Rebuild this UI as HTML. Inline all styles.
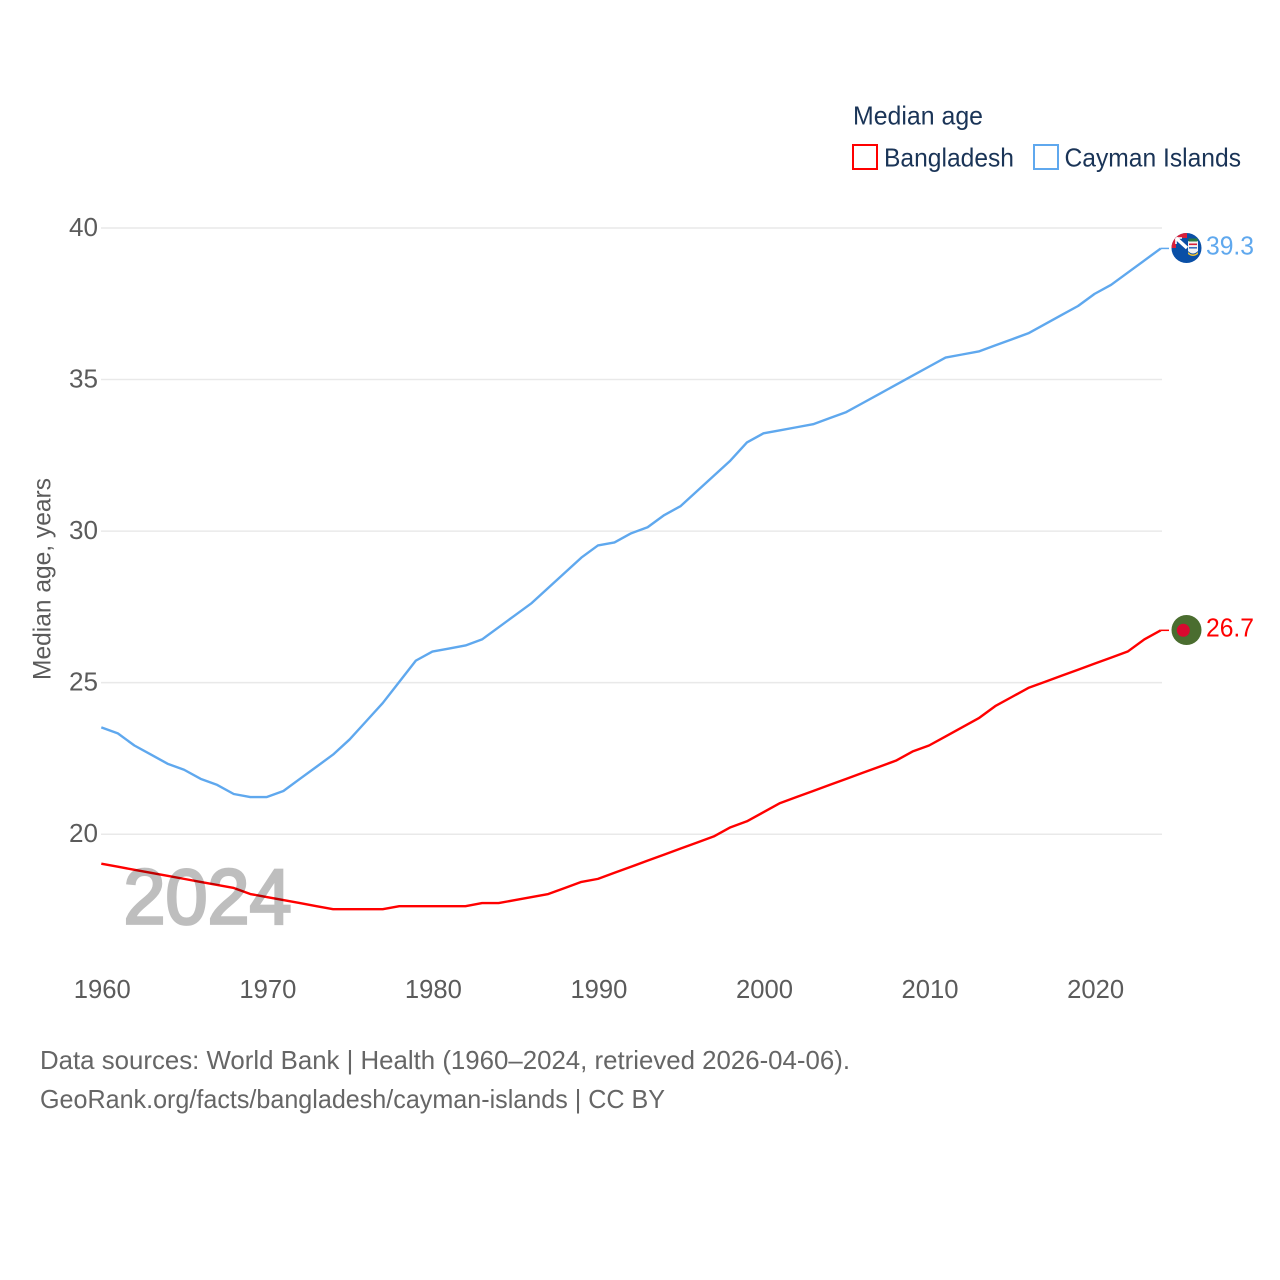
<!DOCTYPE html>
<html lang="en">
<head>
<meta charset="utf-8">
<title>Median age: Bangladesh and Cayman Islands</title>
<style>
html,body{margin:0;padding:0;background:#fff;width:1280px;height:1280px;overflow:hidden}
svg{display:block}
text{font-family:"Liberation Sans",sans-serif}
</style>
</head>
<body>
<svg id="chart" width="1280" height="1280" viewBox="0 0 1280 1280" xmlns="http://www.w3.org/2000/svg">
  <defs>
    <clipPath id="flag-clip-bd"><circle cx="1186.5" cy="630" r="15"/></clipPath>
    <clipPath id="flag-clip-ky"><circle cx="1186.5" cy="248" r="15"/></clipPath>
  </defs>
  <rect x="0" y="0" width="1280" height="1280" fill="#fff"/>
  <g id="grid"></g>
  <g id="yticks"></g>
  <g id="xticks"></g>
  <text transform="translate(50.5,680) rotate(-90)" font-size="25" fill="#5b5b5b" textLength="202" lengthAdjust="spacingAndGlyphs">Median age, years</text>
  <g id="series"></g>
  <text id="year" x="123.5" y="923.5" font-size="78" font-weight="400" fill="#000" stroke="#000" stroke-width="2.8" opacity="0.25" textLength="168" lengthAdjust="spacingAndGlyphs">2024</text>

  <g>
    <text x="853" y="124.5" font-size="26" fill="#1a3457" textLength="130" lengthAdjust="spacingAndGlyphs">Median age</text>
    <g>
      <rect x="853" y="145" width="24" height="24" fill="#fff" stroke="#ff0000" stroke-width="2"/>
      <text x="884" y="166.5" font-size="26" fill="#1a3457" textLength="130" lengthAdjust="spacingAndGlyphs">Bangladesh</text>
    </g>
    <g>
      <rect x="1034" y="145" width="24" height="24" fill="#fff" stroke="#5fa8ee" stroke-width="2"/>
      <text x="1064.5" y="166.5" font-size="26" fill="#1a3457" textLength="176.5" lengthAdjust="spacingAndGlyphs">Cayman Islands</text>
    </g>
  </g>

  <g clip-path="url(#flag-clip-bd)">
    <rect x="1170" y="614" width="34" height="34" fill="#4a6d2f"/>
    <circle cx="1183.3" cy="630.3" r="6.5" fill="#d8092f"/>
  </g>
  <g clip-path="url(#flag-clip-ky)">
    <rect x="1170" y="232" width="34" height="32" fill="#0a4fa6"/>
    <rect x="1171" y="233" width="16" height="15" fill="#d9203a"/>
    <path d="M1176 238 L1187 238 L1187 248 L1176 248Z" fill="#0a4fa6"/>
    <path d="M1176 238 L1187 248" stroke="#ffffff" stroke-width="3.4"/>
    <path d="M1176 238 L1176 244 M1176 238 L1182 238" stroke="#ffffff" stroke-width="1.6"/>
    <path d="M1188 241 h10 v10 q-5 5 -10 0Z" fill="#f3f3f3"/>
    <rect x="1188.5" y="238.5" width="9" height="3" fill="#2c7a3f"/>
    <rect x="1189" y="243.5" width="8" height="1.6" fill="#d9203a"/>
    <rect x="1189" y="247" width="8" height="1.6" fill="#3a6fc0"/>
    <path d="M1188 252 q5 5 10 0 v2 q-5 4 -10 0Z" fill="#f2c230"/>
  </g>

  <g>
    <text x="40" y="1069" font-size="26" fill="#666666" textLength="810" lengthAdjust="spacingAndGlyphs">Data sources: World Bank | Health (1960–2024, retrieved 2026-04-06).</text>
    <text x="40" y="1108" font-size="26" fill="#666666" textLength="625" lengthAdjust="spacingAndGlyphs">GeoRank.org/facts/bangladesh/cayman-islands | CC BY</text>
  </g>
</svg>
<script>
const years = [1960,1961,1962,1963,1964,1965,1966,1967,1968,1969,1970,1971,1972,1973,1974,1975,1976,1977,1978,1979,1980,1981,1982,1983,1984,1985,1986,1987,1988,1989,1990,1991,1992,1993,1994,1995,1996,1997,1998,1999,2000,2001,2002,2003,2004,2005,2006,2007,2008,2009,2010,2011,2012,2013,2014,2015,2016,2017,2018,2019,2020,2021,2022,2023,2024];
const bangladesh = [19.0,18.9,18.8,18.7,18.6,18.5,18.4,18.3,18.2,18.0,17.9,17.8,17.7,17.6,17.5,17.5,17.5,17.5,17.6,17.6,17.6,17.6,17.6,17.7,17.7,17.8,17.9,18.0,18.2,18.4,18.5,18.7,18.9,19.1,19.3,19.5,19.7,19.9,20.2,20.4,20.7,21.0,21.2,21.4,21.6,21.8,22.0,22.2,22.4,22.7,22.9,23.2,23.5,23.8,24.2,24.5,24.8,25.0,25.2,25.4,25.6,25.8,26.0,26.4,26.7];
const cayman = [23.5,23.3,22.9,22.6,22.3,22.1,21.8,21.6,21.3,21.2,21.2,21.4,21.8,22.2,22.6,23.1,23.7,24.3,25.0,25.7,26.0,26.1,26.2,26.4,26.8,27.2,27.6,28.1,28.6,29.1,29.5,29.6,29.9,30.1,30.5,30.8,31.3,31.8,32.3,32.9,33.2,33.3,33.4,33.5,33.7,33.9,34.2,34.5,34.8,35.1,35.4,35.7,35.8,35.9,36.1,36.3,36.5,36.8,37.1,37.4,37.8,38.1,38.5,38.9,39.3];
const yTickValues = [20,25,30,35,40];
const xTickValues = [1960,1970,1980,1990,2000,2010,2020];

const NS = 'http://www.w3.org/2000/svg';
const xScale = function (year) { return 101.3 + (year - 1960) * (1160.8 - 101.3) / 64; };
const yScale = function (value) { return 834.2 - (value - 20) * (834.2 - 228) / 20; };
const lineNudge = -0.8;
const make = function (tag, parent) {
  const node = document.createElementNS(NS, tag);
  parent.appendChild(node);
  return node;
};

const gridGroup = document.getElementById('grid');
const yGroup = document.getElementById('yticks');
yTickValues.forEach(function (v) {
  const line = make('line', gridGroup);
  
  
  line.setAttribute('x1', 101);
  line.setAttribute('x2', 1162);
  line.setAttribute('y1', yScale(v));
  line.setAttribute('y2', yScale(v));
  line.setAttribute('stroke', '#e9e9e9');
  line.setAttribute('stroke-width', 1.5);
  const label = make('text', yGroup);
  
  
  label.setAttribute('x', 69);
  label.setAttribute('y', yScale(v) + 8);
  label.setAttribute('font-size', 26);
  label.setAttribute('fill', '#5b5b5b');
  label.setAttribute('textLength', 29);
  label.setAttribute('lengthAdjust', 'spacingAndGlyphs');
  label.textContent = String(v);
});

const xGroup = document.getElementById('xticks');
xTickValues.forEach(function (yr) {
  const label = make('text', xGroup);
  
  
  label.setAttribute('x', xScale(yr) - 27.5);
  label.setAttribute('y', 998);
  label.setAttribute('font-size', 26);
  label.setAttribute('fill', '#5b5b5b');
  label.setAttribute('textLength', 57);
  label.setAttribute('lengthAdjust', 'spacingAndGlyphs');
  label.textContent = String(yr);
});

const seriesGroup = document.getElementById('series');
const drawSeries = function (key, values, colour) {
  const last = values[values.length - 1];
  const lineY = yScale(last) + lineNudge;
  const path = make('path', seriesGroup);
  
  
  path.setAttribute('d', values.map(function (v, i) {
    return (i ? 'L' : 'M') + xScale(years[i]).toFixed(2) + ' ' + (yScale(v) + lineNudge).toFixed(2);
  }).join(' '));
  path.setAttribute('fill', 'none');
  path.setAttribute('stroke', colour);
  path.setAttribute('stroke-width', 2.4);
  path.setAttribute('stroke-linejoin', 'round');
  const connector = make('line', seriesGroup);
  
  
  connector.setAttribute('x1', xScale(years[years.length - 1]));
  connector.setAttribute('x2', 1169);
  connector.setAttribute('y1', lineY);
  connector.setAttribute('y2', lineY);
  connector.setAttribute('stroke', colour);
  connector.setAttribute('stroke-width', 1.5);
  const label = make('text', seriesGroup);
  
  
  label.setAttribute('x', 1206);
  label.setAttribute('y', lineY + 6);
  label.setAttribute('font-size', 26);
  label.setAttribute('fill', colour);
  label.setAttribute('textLength', 48);
  label.setAttribute('lengthAdjust', 'spacingAndGlyphs');
  label.textContent = last.toFixed(1);
};
drawSeries('cayman-islands', cayman, '#5fa8ee');
drawSeries('bangladesh', bangladesh, '#ff0000');
</script>
</body>
</html>
